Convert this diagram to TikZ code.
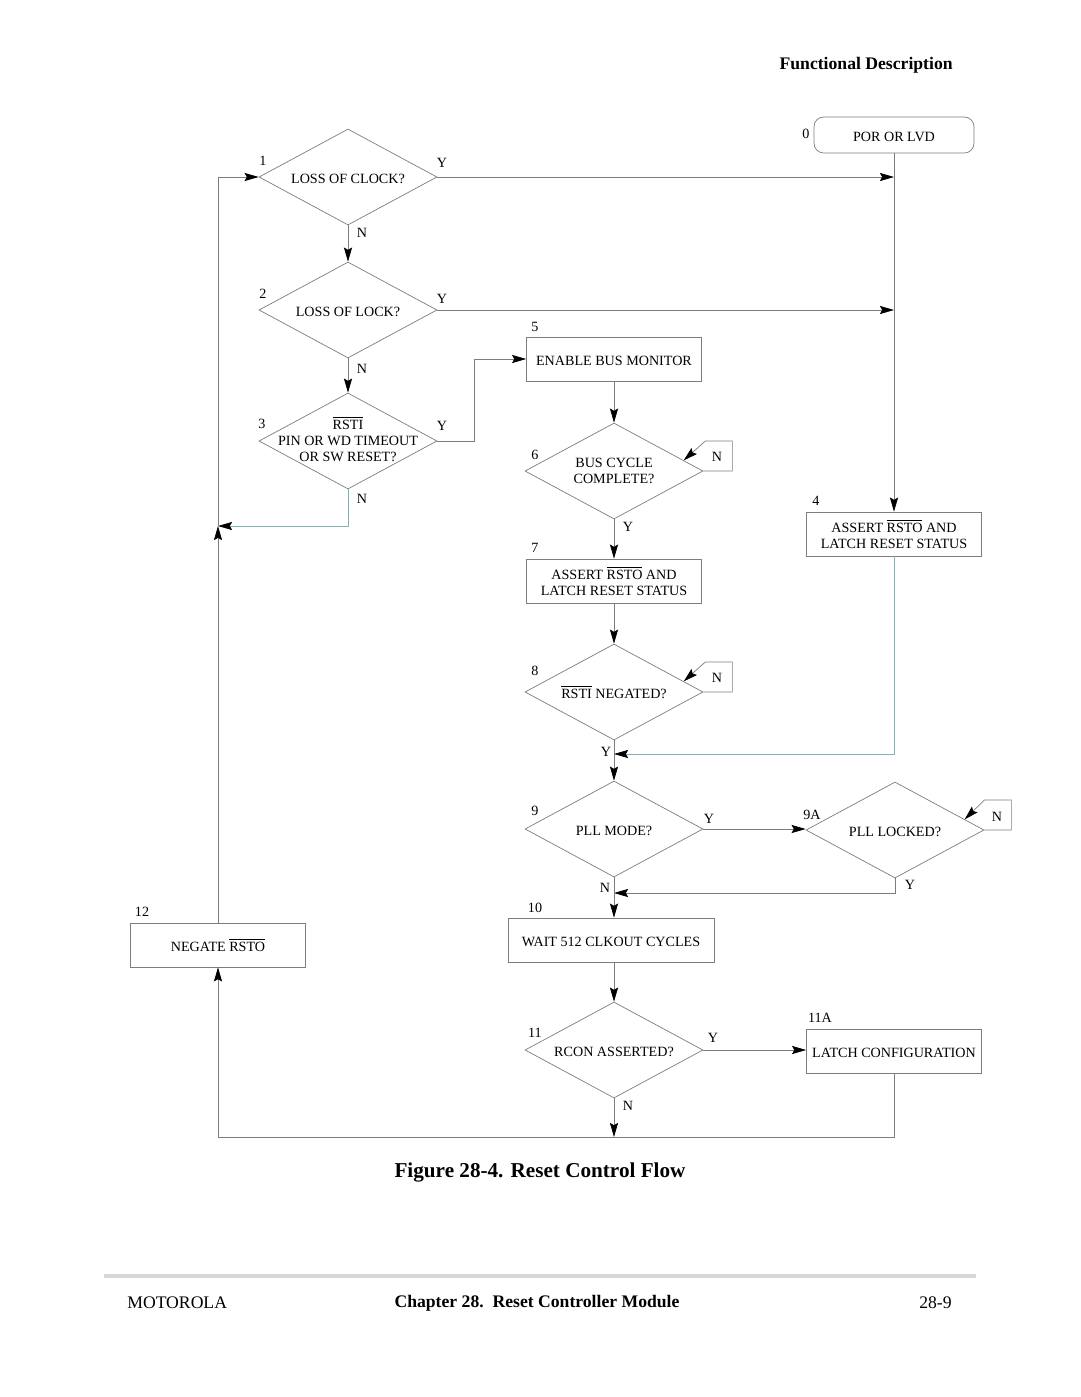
\documentclass[tikz,border=0pt]{standalone}
\usepackage{fontspec}
\setmainfont{Liberation Serif}
\usetikzlibrary{shapes.geometric,arrows.meta,positioning,calc}
\definecolor{linegray}{RGB}{125,125,125}
\definecolor{tealline}{RGB}{125,180,182}
\definecolor{rulegray}{RGB}{215,215,215}
\newcommand{\pxu}{0.5667pt}
\newcommand{\ovl}[1]{$\overline{\mbox{#1}}$}
\newcommand{\smallfont}{\fontsize{8}{9.1}\selectfont}

\begin{document}
\begin{tikzpicture}[x=\pxu, y=-\pxu,
    decision/.style={diamond, draw=linegray, thin, minimum width=178*\pxu, minimum height=96*\pxu, inner sep=0pt},
    dtext/.style={align=center, font=\smallfont, inner sep=0pt},
    single/.style={text height=7pt},
    block/.style={rectangle, draw=linegray, thin, minimum width=175*\pxu, minimum height=44*\pxu, align=center, font=\smallfont, inner sep=1pt},
    tag/.style={font=\smallfont, inner sep=0pt},
    yn/.style={font=\smallfont, inner sep=0pt},
    line/.style={draw=linegray, thin},
    arrow/.style={-{Stealth[length=8pt, width=4.6pt, inset=1.3pt, color=black]}, draw=linegray, thin},
    tealarrow/.style={-{Stealth[length=8pt, width=4.6pt, inset=1.3pt, color=black]}, draw=tealline, thin}
]
\useasboundingbox (0,0) rectangle (1080,1397);

% Header
\node[anchor=east, font=\fontsize{10}{12}\selectfont\bfseries, inner sep=0pt] (head) at (953,65) {Functional Description};

% Power on
\node[block, single, rounded corners=5.5pt, minimum width=160*\pxu, minimum height=36*\pxu] (por) at (894,135) {POR OR LVD};
\node[tag] (t0) at (806,134) {0};

% Left column decisions
\node[decision, label={[dtext, single]center:LOSS OF CLOCK?}] (d1) at (348,177) {};
\node[tag] (t1) at (263,161) {1};
\node[decision, label={[dtext, single]center:LOSS OF LOCK?}] (d2) at (348,310) {};
\node[tag] (t2) at (263,294) {2};
\node[decision, label={[dtext, yshift=1pt]center:\ovl{RSTI}\\PIN OR WD TIMEOUT\\OR SW RESET?}] (d3) at (348,441) {};
\node[tag] (t3) at (262,424) {3};

% Middle column
\node[block, single] (b5) at (614,359) {ENABLE BUS MONITOR};
\node[tag] (t5) at (535,327) {5};
\node[decision, label={[dtext]center:BUS CYCLE\\COMPLETE?}] (d6) at (614,471) {};
\node[tag] (t6) at (535,455) {6};
\node[block] (b7) at (614,581) {ASSERT \ovl{RSTO} AND\\LATCH RESET STATUS};
\node[tag] (t7) at (535,548) {7};
\node[decision, label={[dtext, single]center:\ovl{RSTI} NEGATED?}] (d8) at (614,692) {};
\node[tag] (t8) at (535,671) {8};
\node[decision, label={[dtext, single]center:PLL MODE?}] (d9) at (614,829) {};
\node[tag] (t9) at (535,811) {9};
\node[block, single, minimum width=206*\pxu] (b10) at (611,940) {WAIT 512 CLKOUT CYCLES};
\node[tag] (t10) at (535,908) {10};
\node[decision, label={[dtext, single]center:RCON ASSERTED?}] (d11) at (614,1050) {};
\node[tag] (t11) at (535,1033) {11};

% Right column
\node[block] (b4) at (894,534) {ASSERT \ovl{RSTO} AND\\LATCH RESET STATUS};
\node[tag] (t4) at (816,501) {4};
\node[decision, label={[dtext, single]center:PLL LOCKED?}] (d9a) at (895,830) {};
\node[tag] (t9a) at (812,815) {9A};
\node[block, single] (b11a) at (894,1051) {LATCH CONFIGURATION};
\node[tag] (t11a) at (820,1018) {11A};

% Negate
\node[block, single] (b12) at (218,945) {NEGATE \ovl{RSTO}};
\node[tag] (t12) at (142,912) {12};

% Junction points
\coordinate (j1) at (894,177);
\coordinate (j2) at (894,310);
\coordinate (jn) at (218,526);
\coordinate (j8) at (614,754);
\coordinate (j9) at (614,893);
\coordinate (j11) at (614,1137);
\coordinate (jb) at (218,1137);

% Reset request path
\draw[line] (por) -- (j1);
\draw[arrow] (j1) -- (b4);
\draw[arrow] (d1.east) -- (j1);
\node[yn] (y1) at (442,163) {Y};
\draw[arrow] (d1) -- (d2);
\node[yn] (n1) at (362,233) {N};
\draw[arrow] (d2.east) -- (j2);
\node[yn] (y2) at (442,299) {Y};
\draw[arrow] (d2) -- (d3);
\node[yn] (n2) at (362,369) {N};
\draw[arrow] (d3.east) -- ++(37,0) |- (b5.west);
\node[yn] (y3) at (442,426) {Y};
\draw[tealarrow] (d3.south) |- (jn);
\node[yn] (n3) at (362,499) {N};

% Bus monitor loop
\draw[arrow] (b5) -- (d6);
\draw[arrow] (d6.east) -- ++(29,0) -- ++(0,-30) -- ++(-27,0) -- ($(d6.east)!0.22!(d6.north)$);
\node[yn] (n6) at (717,457) {N};
\draw[arrow] (d6) -- (b7);
\node[yn] (y6) at (628,527) {Y};
\draw[arrow] (b7) -- (d8);
\draw[arrow] (d8.east) -- ++(29,0) -- ++(0,-30) -- ++(-27,0) -- ($(d8.east)!0.22!(d8.north)$);
\node[yn] (n8) at (717,678) {N};
\draw[line] (d8) -- (j8);
\node[yn] (y8) at (606,752) {Y};
\draw[tealarrow] (b4.south) |- (j8);
\draw[arrow] (j8) -- (d9);

% PLL
\draw[arrow] (d9.east) -- (d9.east -| d9a.west);
\node[yn] (y9) at (709,819) {Y};
\draw[arrow] (d9a.east) -- ++(27,0) -- ++(0,-30) -- ++(-27,0) -- ($(d9a.east)!0.22!(d9a.north)$);
\node[yn] (n9a) at (997,817) {N};
\draw[arrow] (d9a.south) |- (j9);
\node[yn] (y9a) at (910,885) {Y};
\draw[arrow] (d9.south) -- (d9.south |- b10.north);
\node[yn] (n9) at (605,888) {N};

% Configuration
\draw[arrow] (b10.south -| d11.north) -- (d11.north);
\draw[arrow] (d11.east) -- (d11.east -| b11a.west);
\node[yn] (y11) at (713,1038) {Y};
\draw[arrow] (d11.south) -- (j11);
\node[yn] (n11) at (628,1106) {N};
\draw[arrow] (b11a.south) |- (jb) -- (b12.south);

% Back to the start
\draw[arrow] (b12.north) -- (jn);
\draw[arrow] (jn) |- (d1.west);

% Caption and footer
\node[font=\fontsize{12}{14}\selectfont\bfseries, inner sep=0pt] (cap) at (540,1172) {Figure 28-4. Reset Control Flow};
\draw[rulegray, line width=2.3pt] (104,1276) -- (976,1276);
\node[anchor=west, font=\fontsize{10}{12}\selectfont, inner sep=0pt] (foot1) at (127,1303) {MOTOROLA};
\node[font=\fontsize{10}{12}\selectfont\bfseries, inner sep=0pt] (foot2) at (537,1303) {Chapter 28.\ \ Reset Controller Module};
\node[anchor=east, font=\fontsize{10}{12}\selectfont, inner sep=0pt] (foot3) at (952,1303) {28-9};

\end{tikzpicture}
\end{document}
